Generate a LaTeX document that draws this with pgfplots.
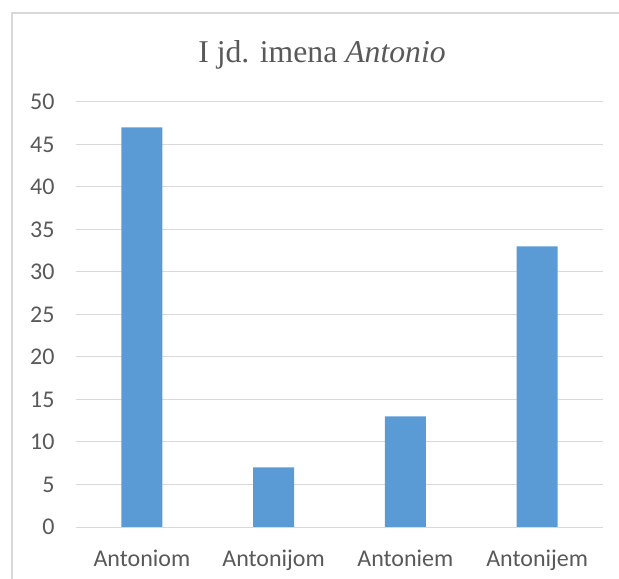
\documentclass[border=0pt]{standalone}
\usepackage{pgfplots}
\pgfplotsset{compat=1.18}
\usepackage{fontspec}
\setmainfont{Carlito}
\newfontfamily\titlefont{Liberation Serif}
\definecolor{barblue}{HTML}{5B9BD5}
\definecolor{gridgray}{HTML}{D9D9D9}
\definecolor{txtgray}{HTML}{595959}
\begin{document}
\begin{tikzpicture}
\useasboundingbox (0,0) rectangle (619bp,579bp);
\draw[gridgray, line width=1.5bp] (12bp,0) -- (12bp,566bp) -- (619bp,566bp);
\node[anchor=base, text=txtgray, font=\titlefont\fontsize{31.7bp}{36bp}\selectfont] at (322bp,516bp) {I jd. imena \textit{Antonio}};
\begin{axis}[
  at={(76bp,52bp)}, anchor=south west,
  scale only axis,
  width=527bp, height=425bp,
  xmin=-0.5, xmax=3.5,
  ymin=0, ymax=50,
  ytick={0,5,...,50},
  xtick={0,1,2,3},
  xticklabels={Antoniom,Antonijom,Antoniem,Antonijem},
  axis line style={draw=none},
  major tick length=0pt,
  ymajorgrids,
  grid style={gridgray, line width=1bp},
  tick label style={text=txtgray, font=\fontsize{24bp}{26bp}\selectfont},
  yticklabel style={xshift=-18bp},
  xticklabel style={yshift=-19bp},
  /pgf/number format/assume math mode=true,
  clip=false,
]
\addplot[ybar, bar width=41bp, fill=barblue, draw=none] coordinates {(0,47) (1,7) (2,13) (3,33)};
\draw[gridgray, line width=1bp] (axis cs:-0.5,0) -- (axis cs:3.5,0);
\end{axis}
\end{tikzpicture}
\end{document}
